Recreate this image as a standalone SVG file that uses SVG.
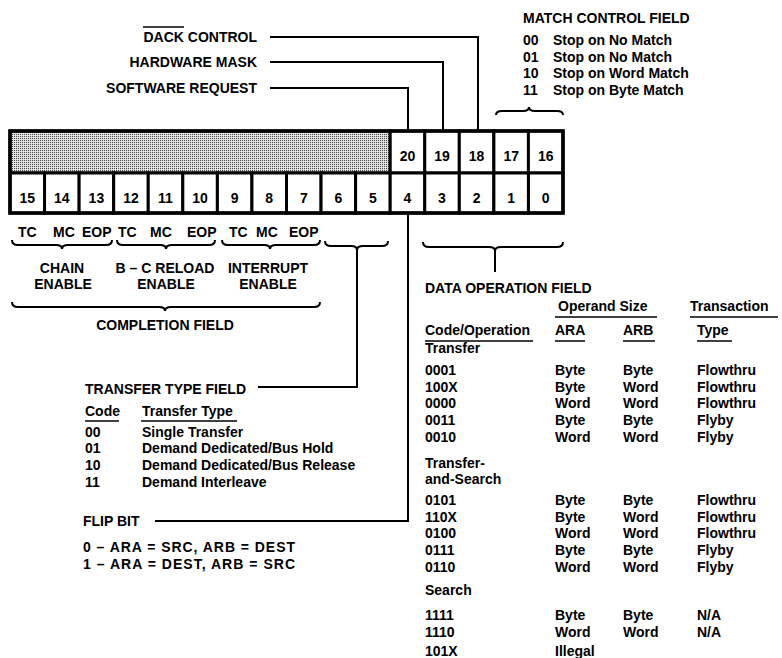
<svg xmlns="http://www.w3.org/2000/svg" width="782" height="658" viewBox="0 0 782 658">
<defs>
<pattern id="dots" width="2" height="2" patternUnits="userSpaceOnUse">
<rect width="2" height="2" fill="#e2e2e2"/>
<rect width="1" height="1" fill="#444"/>
</pattern>
</defs>
<style>
text{font-family:"Liberation Sans",Arial,Helvetica,sans-serif;font-weight:bold;font-size:14px;fill:#000}
.c{text-anchor:middle}
.e{text-anchor:end}
.ln{fill:none;stroke:#000;stroke-width:2}
.cell{fill:#fff;stroke:#000;stroke-width:3}
.ul{stroke:#000;stroke-width:1.5}
</style>
<rect width="782" height="658" fill="#fff"/>

<g id="register">
<rect x="10" y="131" width="380.2" height="42" fill="url(#dots)" stroke="#000" stroke-width="3"/>
<rect class="cell" x="390.2" y="131" width="34.56" height="42"/>
<rect class="cell" x="424.75" y="131" width="34.56" height="42"/>
<rect class="cell" x="459.3" y="131" width="34.56" height="42"/>
<rect class="cell" x="493.9" y="131" width="34.56" height="42"/>
<rect class="cell" x="528.4" y="131" width="34.56" height="42"/>
<rect class="cell" x="10" y="173" width="34.56" height="40"/>
<rect class="cell" x="44.56" y="173" width="34.56" height="40"/>
<rect class="cell" x="79.13" y="173" width="34.56" height="40"/>
<rect class="cell" x="113.69" y="173" width="34.56" height="40"/>
<rect class="cell" x="148.25" y="173" width="34.56" height="40"/>
<rect class="cell" x="182.81" y="173" width="34.56" height="40"/>
<rect class="cell" x="217.38" y="173" width="34.56" height="40"/>
<rect class="cell" x="251.94" y="173" width="34.56" height="40"/>
<rect class="cell" x="286.5" y="173" width="34.56" height="40"/>
<rect class="cell" x="321.06" y="173" width="34.56" height="40"/>
<rect class="cell" x="355.63" y="173" width="34.56" height="40"/>
<rect class="cell" x="390.19" y="173" width="34.56" height="40"/>
<rect class="cell" x="424.75" y="173" width="34.56" height="40"/>
<rect class="cell" x="459.31" y="173" width="34.56" height="40"/>
<rect class="cell" x="493.88" y="173" width="34.56" height="40"/>
<rect class="cell" x="528.44" y="173" width="34.56" height="40"/>
<rect x="10" y="131" width="553" height="82" fill="none" stroke="#000" stroke-width="3.5"/>
<text class="c" x="407.5" y="161">20</text>
<text class="c" x="442" y="161">19</text>
<text class="c" x="476.6" y="161">18</text>
<text class="c" x="511.2" y="161">17</text>
<text class="c" x="545.7" y="161">16</text>
<text class="c" x="27.3" y="203">15</text>
<text class="c" x="61.8" y="203">14</text>
<text class="c" x="96.4" y="203">13</text>
<text class="c" x="131" y="203">12</text>
<text class="c" x="165.5" y="203">11</text>
<text class="c" x="200.1" y="203">10</text>
<text class="c" x="234.7" y="203">9</text>
<text class="c" x="269.2" y="203">8</text>
<text class="c" x="303.8" y="203">7</text>
<text class="c" x="338.3" y="203">6</text>
<text class="c" x="372.9" y="203">5</text>
<text class="c" x="407.5" y="203">4</text>
<text class="c" x="442" y="203">3</text>
<text class="c" x="476.6" y="203">2</text>
<text class="c" x="511.2" y="203">1</text>
<text class="c" x="545.7" y="203">0</text>
</g>

<g id="dack-control">
<text class="e" x="257" y="42">DACK CONTROL</text>
<line x1="143" y1="27" x2="184" y2="27" stroke="#000" stroke-width="1.5"/>
</g>
<g id="hardware-mask"><text class="e" x="257" y="67">HARDWARE MASK</text></g>
<g id="software-request"><text class="e" x="257" y="93">SOFTWARE REQUEST</text></g>

<g id="match-control-field">
<text x="523" y="23">MATCH CONTROL FIELD</text>
<text x="523" y="45">00</text><text x="553" y="45">Stop on No Match</text>
<text x="523" y="62">01</text><text x="553" y="62">Stop on No Match</text>
<text x="523" y="78">10</text><text x="553" y="78">Stop on Word Match</text>
<text x="523" y="95">11</text><text x="553" y="95">Stop on Byte Match</text>
</g>

<g id="enable-bits">
<text x="18" y="237">TC</text><text x="53" y="237">MC</text><text x="82" y="237">EOP</text>
<text x="118" y="237">TC</text><text x="150" y="237">MC</text><text x="187" y="237">EOP</text>
<text x="229" y="237">TC</text><text x="256" y="237">MC</text><text x="289" y="237">EOP</text>
</g>
<g id="chain-enable"><text class="c" x="62" y="273">CHAIN</text><text class="c" x="63" y="289">ENABLE</text></g>
<g id="bc-reload-enable"><text class="c" x="165" y="273">B – C RELOAD</text><text class="c" x="166" y="289">ENABLE</text></g>
<g id="interrupt-enable"><text class="c" x="268" y="273">INTERRUPT</text><text class="c" x="268" y="289">ENABLE</text></g>
<g id="completion-field"><text class="c" x="165" y="330">COMPLETION FIELD</text></g>

<g id="transfer-type-field">
<text x="85" y="394">TRANSFER TYPE FIELD</text>
<text x="85" y="416">Code</text><line class="ul" x1="85" y1="421" x2="119" y2="421"/>
<text x="142" y="416">Transfer Type</text><line class="ul" x1="141" y1="421" x2="237" y2="421"/>
<text x="85" y="437">00</text><text x="142" y="437">Single Transfer</text>
<text x="85" y="453">01</text><text x="142" y="453">Demand Dedicated/Bus Hold</text>
<text x="85" y="470">10</text><text x="142" y="470">Demand Dedicated/Bus Release</text>
<text x="85" y="487">11</text><text x="142" y="487">Demand Interleave</text>
</g>

<g id="flip-bit">
<text x="83" y="526">FLIP BIT</text>
<text x="83" y="552" textLength="212" lengthAdjust="spacing">0 – ARA = SRC, ARB = DEST</text>
<text x="83" y="569" textLength="212" lengthAdjust="spacing">1 – ARA = DEST, ARB = SRC</text>
</g>

<g id="data-operation-field">
<text x="425" y="293">DATA OPERATION FIELD</text>
<text x="558" y="311">Operand Size</text><line class="ul" x1="555" y1="317" x2="657" y2="317"/>
<text x="690" y="311">Transaction</text><line class="ul" x1="690" y1="317" x2="778" y2="317"/>
<text x="425" y="335">Code/Operation</text><line class="ul" x1="425" y1="341" x2="533" y2="341"/>
<text x="555" y="335">ARA</text><line class="ul" x1="555" y1="341" x2="585" y2="341"/>
<text x="623" y="335">ARB</text><line class="ul" x1="623" y1="341" x2="655" y2="341"/>
<text x="697" y="335">Type</text><line class="ul" x1="697" y1="341" x2="732" y2="341"/>
<text x="425" y="353">Transfer</text>
<text x="425" y="375">0001</text><text x="555" y="375">Byte</text><text x="623" y="375">Byte</text><text x="697" y="375">Flowthru</text>
<text x="425" y="392">100X</text><text x="555" y="392">Byte</text><text x="623" y="392">Word</text><text x="697" y="392">Flowthru</text>
<text x="425" y="408">0000</text><text x="555" y="408">Word</text><text x="623" y="408">Word</text><text x="697" y="408">Flowthru</text>
<text x="425" y="425">0011</text><text x="555" y="425">Byte</text><text x="623" y="425">Byte</text><text x="697" y="425">Flyby</text>
<text x="425" y="442">0010</text><text x="555" y="442">Word</text><text x="623" y="442">Word</text><text x="697" y="442">Flyby</text>
<text x="425" y="468">Transfer-</text>
<text x="425" y="484">and-Search</text>
<text x="425" y="505">0101</text><text x="555" y="505">Byte</text><text x="623" y="505">Byte</text><text x="697" y="505">Flowthru</text>
<text x="425" y="522">110X</text><text x="555" y="522">Byte</text><text x="623" y="522">Word</text><text x="697" y="522">Flowthru</text>
<text x="425" y="538">0100</text><text x="555" y="538">Word</text><text x="623" y="538">Word</text><text x="697" y="538">Flowthru</text>
<text x="425" y="555">0111</text><text x="555" y="555">Byte</text><text x="623" y="555">Byte</text><text x="697" y="555">Flyby</text>
<text x="425" y="572">0110</text><text x="555" y="572">Word</text><text x="623" y="572">Word</text><text x="697" y="572">Flyby</text>
<text x="425" y="595">Search</text>
<text x="425" y="620">1111</text><text x="555" y="620">Byte</text><text x="623" y="620">Byte</text><text x="697" y="620">N/A</text>
<text x="425" y="637">1110</text><text x="555" y="637">Word</text><text x="623" y="637">Word</text><text x="697" y="637">N/A</text>
<text x="425" y="656">101X</text><text x="555" y="656">Illegal</text>
</g>

<g id="connectors">
<polyline class="ln" points="270,37 478,37 478,131"/>
<polyline class="ln" points="270,62 443,62 443,131"/>
<polyline class="ln" points="270,88 408,88 408,131"/>
<path class="ln" d="M496,115 Q496,111 502,111 L523,111 Q529,111 529,107 Q529,111 535,111 L557,111 Q563,111 563,115"/>
<path class="ln" d="M12,240 Q12,245 18,245 L56,245 Q62,245 62,249 Q62,245 68,245 L106,245 Q112,245 112,240"/>
<path class="ln" d="M117,240 Q117,245 123,245 L160,245 Q166,245 166,249 Q166,245 172,245 L209,245 Q215,245 215,240"/>
<path class="ln" d="M222,240 Q222,245 228,245 L264,245 Q270,245 270,249 Q270,245 276,245 L314,245 Q320,245 320,240"/>
<path class="ln" d="M325,241 Q325,246 331,246 L351,246 Q357,246 357,250 Q357,246 363,246 L382,246 Q388,246 388,241"/>
<polyline class="ln" points="357,250 357,387 258,387"/>
<path class="ln" d="M423,242 Q423,247 429,247 L489,247 Q495,247 495,251 Q495,247 501,247 L557,247 Q563,247 563,242"/>
<line class="ln" x1="495" y1="251" x2="495" y2="272"/>
<path class="ln" d="M12,302 Q12,307 18,307 L159,307 Q165,307 165,311 Q165,307 171,307 L314,307 Q320,307 320,302"/>
<polyline class="ln" points="408,213 408,521 155,521"/>
</g>
</svg>
